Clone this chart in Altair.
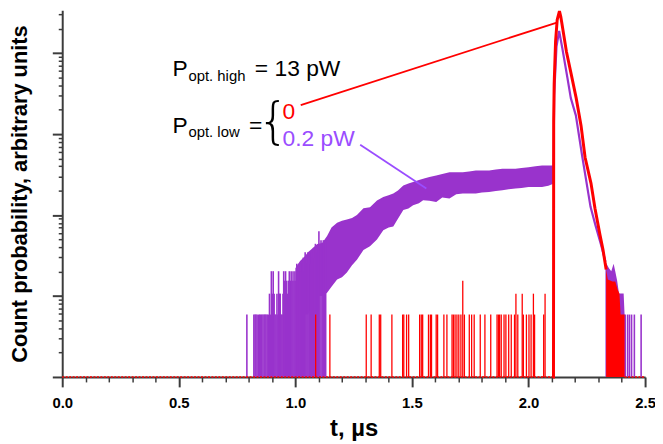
import altair as alt
import pandas as pd

RED = "#ff0000"
PURPLE = "#9933cc"
VIOLET = "#9a4dff"
AXIS = "#3c3c3c"
FONT = "Liberation Sans"

# ---------------- data ----------------
# counts -> arbitrary units of the (log) y axis; floor of the axis = 1
UNIT = 4.777
OFFSET = 0.235
FLOOR = 1.0


def level(n):
    return round(UNIT * (n + OFFSET), 2)


# purple (0.2 pW) : isolated / dense spikes on the rising edge (t in us, counts)
p_spike_t = [0.792, 0.822, 0.827, 0.831, 0.836, 0.843, 0.847, 0.851, 0.856, 0.861,
             0.866, 0.870, 0.874, 0.879, 0.884, 0.889, 0.893, 0.897, 0.901, 0.905,
             0.909, 0.913, 0.917, 0.921, 0.925, 0.928, 0.932, 0.935, 0.939, 0.943,
             0.947, 0.950, 0.954, 0.958, 0.962, 0.966, 0.970, 0.974, 0.978, 0.982,
             0.986, 0.990, 0.994, 0.998, 1.002, 1.006, 1.010, 1.014, 1.018, 1.022,
             1.026, 1.030, 1.034, 1.038, 1.042, 1.046, 1.050, 1.054, 1.058, 1.062,
             1.066, 1.070, 1.074, 1.078, 1.082, 1.086, 1.090, 1.094, 1.098, 1.101,
             1.105, 1.110, 1.115, 1.120, 1.125, 1.130,
             2.425, 2.433, 2.442, 2.454, 2.483]
p_spike_n = [1, 1, 1, 1, 1, 1, 1, 1, 1, 1,
             1, 1, 1, 1, 1, 2, 1, 4, 2, 4,
             2, 1, 1, 2, 1, 4, 2, 2, 1, 1,
             2, 4, 3, 4, 3, 2, 3, 4, 3, 4,
             3, 4, 3, 4, 3, 5, 4, 5, 3, 5,
             4, 5, 6, 4, 7, 6, 5, 7, 6, 7,
             5, 7, 6, 8, 6, 9, 8, 7, 8, 13,
             8, 10, 9, 10, 9, 10,
             1, 1, 1, 1, 1]

# purple noise band (lower / upper envelope, arbitrary units)
band_t = [1.000, 1.020, 1.037, 1.055, 1.075, 1.094, 1.115, 1.136, 1.155, 1.179,
          1.200, 1.221, 1.243, 1.264, 1.292, 1.320, 1.350, 1.377, 1.400, 1.420,
          1.440, 1.463, 1.485, 1.505, 1.530, 1.548, 1.575, 1.604, 1.630, 1.661,
          1.690, 1.718, 1.745, 1.774, 1.800, 1.831, 1.860, 1.888, 1.915, 1.944,
          1.970, 2.000, 2.030, 2.058, 2.085, 2.107]
band_lo = [5.9, 5.9, 5.9, 5.9, 8, 10, 10, 11, 13, 16,
           17, 19.5, 24, 28, 37, 41, 50, 65, 70, 72,
           90, 115, 120, 132, 140, 152, 150, 145, 165, 160,
           180, 184, 184, 184, 190, 192, 198, 202, 208, 212,
           216, 221, 221, 221, 230, 244]
band_hi = [22, 27, 30, 35, 39, 44, 45, 55, 70, 80,
           85, 88, 92, 100, 121, 125, 151, 167, 175, 184,
           200, 232, 245, 255, 270, 281, 295, 308, 320, 338,
           338, 338, 345, 355, 355, 355, 365, 372, 372, 372,
           380, 389, 400, 408, 408, 408]

# purple pulse (peak and decay)
p_peak_t = [2.1071, 2.1100, 2.1200, 2.1314, 2.1450, 2.1670, 2.1815, 2.2030,
            2.2310, 2.2660, 2.2870, 2.3110, 2.3300]
p_peak_v = [300, 3000, 12000, 18700, 11450, 4916, 2774, 1700,
            516, 126, 75, 43, 26.5]

# purple tail (drawn down to the floor)
p_tail_t = [2.330, 2.345, 2.355, 2.365, 2.372, 2.380, 2.388, 2.400, 2.408, 2.412, 2.418]
p_tail_v = [26.5, 22, 20.2, 25, 20.2, 15.5, 10.7, 10.7, 10.7, 5.9, 5.9]

# red (0) : single-count spikes before the pulse
r_spike_t = [1.087, 1.148, 1.304, 1.325, 1.360, 1.366, 1.414, 1.460, 1.465, 1.477,
             1.486, 1.533, 1.540, 1.546, 1.571, 1.579, 1.584, 1.604, 1.610, 1.637,
             1.650, 1.672, 1.678, 1.685, 1.693, 1.701, 1.710, 1.718, 1.725, 1.746,
             1.756, 1.767, 1.793, 1.813, 1.838, 1.865, 1.871, 1.876, 1.883, 1.895,
             1.903, 1.915, 1.926, 1.940, 1.946, 1.954, 1.973, 1.978, 1.991, 2.002,
             2.011, 2.021, 2.026, 2.065, 2.071]
r_spike_n = [1, 1, 1, 1, 1, 1, 1, 1, 1, 1,
             1, 1, 1, 1, 1, 1, 1, 1, 1, 1,
             1, 1, 1, 1, 1, 1, 1, 3, 1, 1,
             1, 1, 1, 1, 1, 1, 1, 1, 1, 1,
             1, 1, 1, 1, 2, 1, 2, 1, 1, 1,
             1, 2, 1, 1, 2]

# red pulse
r_peak_t = [2.1040, 2.1071, 2.1080, 2.1100, 2.1160, 2.1230, 2.1327, 2.1385, 2.1420,
            2.1625, 2.1835, 2.2045, 2.2255, 2.2425, 2.2680, 2.2850, 2.3065, 2.3195, 2.3330]
r_peak_v = [1, 1, 1451, 4117, 13830, 25700, 32850, 27980, 24300,
            10430, 5410, 2774, 1260, 516, 246, 121.5, 56.8, 37.2, 21.2]

r_tail_t = [2.333, 2.340, 2.350, 2.360, 2.372, 2.382, 2.390, 2.395, 2.410, 2.412]
r_tail_v = [21.2, 16.0, 15.5, 15.1, 15.1, 12.0, 10.7, 5.9, 5.9, 5.9]

# red zero-count segments (lying on the floor)
r_zero_t0 = [0.0, 2.412]
r_zero_t1 = [2.104, 2.5]

# leader lines of the annotation
lead_t0 = [1.023, 1.278]
lead_v0 = [2277, 738]
lead_t1 = [2.1216, 1.5617]
lead_v1 = [23800, 213]
lead_c = ["red", "violet"]

# axis ticks
x_major = [0.0, 0.5, 1.0, 1.5, 2.0, 2.5]
x_minor = [0.1, 0.2, 0.3, 0.4, 0.6, 0.7, 0.8, 0.9, 1.1, 1.2, 1.3, 1.4,
           1.6, 1.7, 1.8, 1.9, 2.1, 2.2, 2.3, 2.4]
y_major = [1, 10, 100, 1000, 10000]
y_minor = [m * d for d in [1, 10, 100, 1000] for m in range(2, 10)] + [20000, 30000]

# ---------------- chart ----------------
xs = alt.Scale(domain=[0, 2.5], nice=False, zero=False)
ys = alt.Scale(type="log", domain=[1, 33800], nice=False)


def X(f):
    return alt.X(f, type="quantitative", scale=xs, axis=None)


def Y(f):
    return alt.Y(f, type="quantitative", scale=ys, axis=None)


band_df = pd.DataFrame({"t": band_t, "lo": band_lo, "hi": band_hi})
pspk_df = pd.DataFrame({"t": p_spike_t, "v": [level(n) for n in p_spike_n], "b": FLOOR})
ppk_df = pd.DataFrame({"t": p_peak_t, "v": p_peak_v, "i": range(len(p_peak_t))})
ptail_df = pd.DataFrame({"t": p_tail_t, "v": p_tail_v, "b": FLOOR})
rspk_df = pd.DataFrame({"t": r_spike_t, "v": [level(n) for n in r_spike_n], "b": FLOOR})
rpk_df = pd.DataFrame({"t": r_peak_t, "v": r_peak_v, "i": range(len(r_peak_t))})
rtail_df = pd.DataFrame({"t": r_tail_t, "v": r_tail_v, "b": FLOOR})
rzero_df = pd.DataFrame({"t0": r_zero_t0, "t1": r_zero_t1, "b": FLOOR})
lead_df = pd.DataFrame({"t0": lead_t0, "v0": lead_v0, "t1": lead_t1, "v1": lead_v1, "c": lead_c})

band = alt.Chart(band_df).mark_area(color=PURPLE).encode(x=X("t"), y=Y("lo"), y2="hi")
pspk = alt.Chart(pspk_df).mark_rule(color=PURPLE, strokeWidth=1.6).encode(x=X("t"), y=Y("b"), y2="v")
ppk = alt.Chart(ppk_df).mark_line(color=PURPLE, strokeWidth=2.2).encode(x=X("t"), y=Y("v"), order="i")
ptail = alt.Chart(ptail_df).mark_area(color=PURPLE).encode(x=X("t"), y=Y("v"), y2="b")

rzero = alt.Chart(rzero_df).mark_rule(color=RED, strokeWidth=1.6, strokeDash=[2, 1.5]).encode(
    x=X("t0"), x2="t1", y=Y("b"))
rspk = alt.Chart(rspk_df).mark_rule(color=RED, strokeWidth=1.3).encode(x=X("t"), y=Y("b"), y2="v")
rtail = alt.Chart(rtail_df).mark_area(color=RED).encode(x=X("t"), y=Y("v"), y2="b")
rpk = alt.Chart(rpk_df).mark_line(color=RED, strokeWidth=3).encode(x=X("t"), y=Y("v"), order="i")

lead = alt.Chart(lead_df).mark_rule(strokeWidth=1.8).encode(
    x=X("t0"), x2="t1", y=Y("v0"), y2="v1",
    color=alt.Color("c:N", scale=alt.Scale(domain=["red", "violet"], range=[RED, VIOLET]), legend=None))

# annotation text (data coordinates)
txt_df = pd.DataFrame({
    "t": [0.4732, 0.8261, 0.4732, 0.8006],
    "v": [5158, 5158, 1043, 1043],
    "s": ["P", "= 13 pW", "P", "="],
})
sub_df = pd.DataFrame({"t": [0.5413, 0.5413], "v": [4478, 906], "s": ["opt. high", "opt. low"]})
zero_df = pd.DataFrame({"t": [0.9452], "v": [1522], "s": ["0"]})
low_df = pd.DataFrame({"t": [0.9452], "v": [703], "s": ["0.2 pW"]})
brace_df = pd.DataFrame({"t": [0.8380], "v": [1371], "s": ["{"]})


def text_layer(df, size, color, baseline="alphabetic", font=FONT, weight="normal"):
    return alt.Chart(df).mark_text(align="left", baseline=baseline, font=font, fontSize=size,
                                   fontWeight=weight, color=color).encode(
        x=X("t"), y=Y("v"), text="s:N")


t_main = text_layer(txt_df, 23, "black")
t_sub = text_layer(sub_df, 15, "black")
t_zero = text_layer(zero_df, 23, RED)
t_low = text_layer(low_df, 23, VIOLET)
t_brace = text_layer(brace_df, 50, "black", baseline="middle", font="DejaVu Sans", weight=200)

# axes
dummy = pd.DataFrame({"t": [1.0], "v": [10.0]})
ax_major = alt.Chart(dummy).mark_point(opacity=0).encode(
    x=alt.X("t:Q", scale=xs, axis=alt.Axis(
        orient="bottom", values=x_major, format=".1f", grid=False,
        tickSize=10, tickWidth=2, tickColor=AXIS, domainColor=AXIS, domainWidth=2,
        labelFont=FONT, labelFontSize=15, labelFontWeight="bold", labelColor="black",
        labelPadding=9, labelFlush=False,
        title="t,  µs", titleFont=FONT, titleFontSize=24, titleFontWeight="bold",
        titleColor="black", titleY=58.7, titleBaseline="alphabetic")),
    y=alt.Y("v:Q", scale=ys, axis=alt.Axis(
        orient="left", values=y_major, labels=False, grid=False,
        tickSize=10, tickWidth=2, tickColor=AXIS, domainColor=AXIS, domainWidth=2,
        title="Count probability, arbitrary units", titleFont=FONT, titleFontSize=22,
        titleFontWeight="bold", titleColor="black", titleAngle=270, titleX=-36, titleY=185,
        titleBaseline="alphabetic", titleAlign="center")),
)
ax_minor = alt.Chart(dummy).mark_point(opacity=0).encode(
    x=alt.X("t:Q", scale=xs, axis=alt.Axis(
        orient="bottom", values=x_minor, labels=False, grid=False, domain=False,
        tickSize=5, tickWidth=1.5, tickColor=AXIS, title=None)),
    y=alt.Y("v:Q", scale=ys, axis=alt.Axis(
        orient="left", values=y_minor, labels=False, grid=False, domain=False,
        tickSize=4, tickWidth=1.5, tickColor=AXIS, title=None)),
)

chart = alt.layer(
    ax_major, ax_minor,
    band, pspk, ppk, ptail,
    rzero, rspk, rtail, rpk,
    lead, t_main, t_sub, t_zero, t_low, t_brace,
).resolve_axis(x="independent", y="independent").properties(
    width=588, height=370,
    autosize=alt.AutoSizeParams(type="none"),
    padding={"left": 54.7, "top": 0.3, "right": 10, "bottom": 66},
    background="white",
).configure_view(stroke=None)

chart.save("out.html", embed_options={"renderer": "svg", "actions": False})
